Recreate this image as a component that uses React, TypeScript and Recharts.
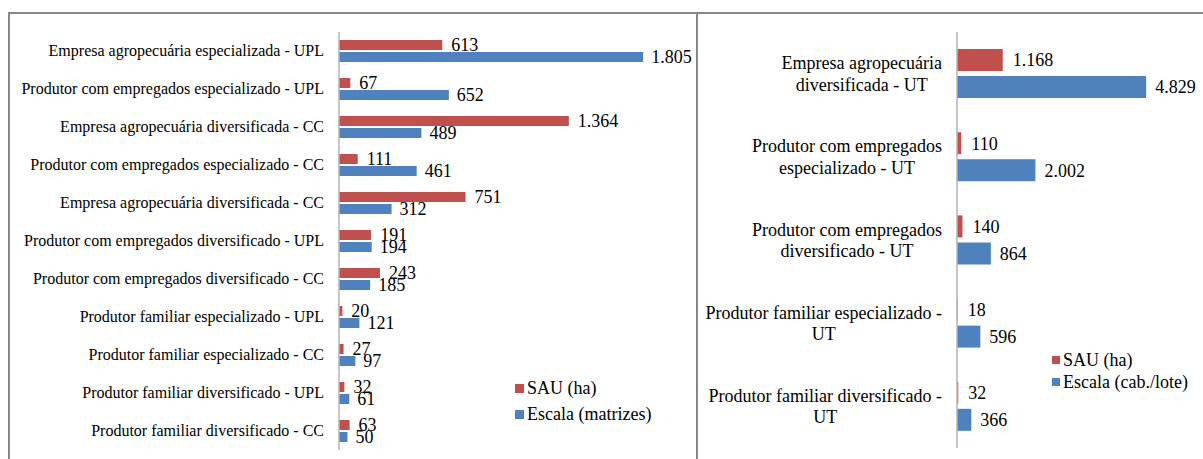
import React from 'react';
import { BarChart, Bar, XAxis, YAxis, LabelList } from 'recharts';

// left panel: suinocultura (UPL / CC)
const leftCategories = [
  'Empresa agropecuária especializada - UPL',
  'Produtor com empregados especializado - UPL',
  'Empresa agropecuária diversificada - CC',
  'Produtor com empregados especializado - CC',
  'Empresa agropecuária diversificada - CC',
  'Produtor com empregados diversificado - UPL',
  'Produtor com empregados diversificado - CC',
  'Produtor familiar especializado - UPL',
  'Produtor familiar especializado - CC',
  'Produtor familiar diversificado - UPL',
  'Produtor familiar diversificado - CC',
];
const leftSau = [613, 67, 1364, 111, 751, 191, 243, 20, 27, 32, 63];
const leftEscala = [1805, 652, 489, 461, 312, 194, 185, 121, 97, 61, 50];
const leftLegend = ['SAU (ha)', 'Escala (matrizes)'];

// right panel: UT, labels wrapped on two lines
const rightCategories = [
  ['Empresa agropecuária', 'diversificada - UT'],
  ['Produtor com empregados', 'especializado - UT'],
  ['Produtor com empregados', 'diversificado - UT'],
  ['Produtor familiar especializado -', 'UT'],
  ['Produtor familiar diversificado -', 'UT'],
];
const rightSau = [1168, 110, 140, 18, 32];
const rightEscala = [4829, 2002, 864, 596, 366];
const rightLegend = ['SAU (ha)', 'Escala (cab./lote)'];

const RED = '#C0504D';
const BLUE = '#4F81BD';
const FONT = "'Liberation Serif', 'Times New Roman', serif";
const BORDER = '#878787';
const AXIS = '#b4b4b4';

const leftData = leftCategories.map((name, i) => ({ idx: i, name, sau: leftSau[i], escala: leftEscala[i] }));
const rightData = rightCategories.map((lines, i) => ({ idx: i, lines, sau: rightSau[i], escala: rightEscala[i] }));

const fmt = (v: number) => String(v).replace(/\B(?=(\d{3})+(?!\d))/g, '.');

let ctx: CanvasRenderingContext2D | null = null;
function textWidth(s: string, font: string) {
  if (!ctx) ctx = document.createElement('canvas').getContext('2d');
  if (!ctx) return s.length * 8;
  ctx.font = font;
  return ctx.measureText(s).width;
}

const LeftTick = ({ y, payload }: any) => (
  <text x={324} y={y} dy={5} textAnchor="end" fontFamily={FONT} fontSize={16} fill="#000">
    {leftCategories[payload.value]}
  </text>
);

const RightTick = ({ y, payload }: any) => {
  const lines = rightCategories[payload.value];
  const w = Math.max(...lines.map((l) => textWidth(l, "18px 'Liberation Serif'")));
  const cx = 246 - w / 2;
  return (
    <text x={cx} y={y} textAnchor="middle" fontFamily={FONT} fontSize={18} fill="#000">
      <tspan x={cx} dy={-4.5}>{lines[0]}</tspan>
      <tspan x={cx} dy={21.5}>{lines[1]}</tspan>
    </text>
  );
};

const LegendBox = ({ labels, left, top, rowH, sq }: { labels: string[]; left: number; top: number; rowH: number; sq: number }) => (
  <div style={{ position: 'absolute', left, top, fontFamily: FONT, fontSize: 18, color: '#000' }}>
    {labels.map((l, i) => (
      <div key={l} style={{ display: 'flex', alignItems: 'center', height: rowH, whiteSpace: 'nowrap' }}>
        <span style={{ display: 'inline-block', width: sq, height: sq, background: i === 0 ? RED : BLUE, marginRight: 3 }} />
        <span style={{ lineHeight: 1 }}>{l}</span>
      </div>
    ))}
  </div>
);

export default function App() {
  return (
    <div style={{ position: 'absolute', left: 0, top: 0, width: 1203, height: 459, background: '#fff', overflow: 'hidden' }}>
      <div style={{ position: 'absolute', left: 8, top: 12, width: 686, height: 460, borderTop: `2px solid ${BORDER}`, borderLeft: `2px solid ${BORDER}`, borderRight: `2px solid ${BORDER}` }} />
      <div style={{ position: 'absolute', left: 696, top: 12, width: 520, height: 460, borderTop: `2px solid ${BORDER}` }} />

      <div style={{ position: 'absolute', left: 0, top: 0 }}>
        <BarChart width={696} height={459} data={leftData} layout="vertical" barGap={2}
          margin={{ top: 32, right: 20, bottom: 9, left: 0 }}>
          <XAxis type="number" domain={[0, 2000]} hide />
          <YAxis type="category" dataKey="idx" width={339} interval={0} tickLine={false}
            axisLine={{ stroke: AXIS, strokeWidth: 1.5 }} tick={<LeftTick />} />
          <Bar dataKey="sau" fill={RED} barSize={10} isAnimationActive={false}>
            <LabelList dataKey="sau" position="right" offset={9} formatter={fmt as any}
              fill="#000" fontSize={18} fontFamily={FONT} />
          </Bar>
          <Bar dataKey="escala" fill={BLUE} barSize={10} isAnimationActive={false}>
            <LabelList dataKey="escala" position="right" offset={8} formatter={fmt as any}
              fill="#000" fontSize={18} fontFamily={FONT} />
          </Bar>
        </BarChart>
      </div>
      <LegendBox labels={leftLegend} left={515} top={375} rowH={26} sq={9} />

      <div style={{ position: 'absolute', left: 696, top: 0 }}>
        <BarChart width={507} height={459} data={rightData} layout="vertical" barGap={5}
          margin={{ top: 32, right: 11, bottom: 11, left: 0 }}>
          <XAxis type="number" domain={[0, 6000]} hide />
          <YAxis type="category" dataKey="idx" width={261} interval={0} tickLine={false}
            axisLine={{ stroke: AXIS, strokeWidth: 1.5 }} tick={<RightTick />} />
          <Bar dataKey="sau" fill={RED} barSize={22} isAnimationActive={false}>
            <LabelList dataKey="sau" position="right" offset={10} formatter={fmt as any}
              fill="#000" fontSize={18} fontFamily={FONT} />
          </Bar>
          <Bar dataKey="escala" fill={BLUE} barSize={22} isAnimationActive={false}>
            <LabelList dataKey="escala" position="right" offset={9} formatter={fmt as any}
              fill="#000" fontSize={18} fontFamily={FONT} />
          </Bar>
        </BarChart>
      </div>
      <LegendBox labels={rightLegend} left={1052} top={349} rowH={22} sq={8} />
    </div>
  );
}
